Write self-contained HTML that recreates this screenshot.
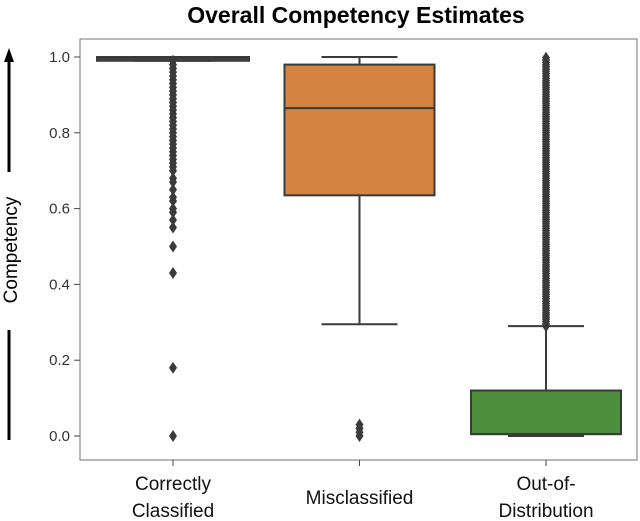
<!DOCTYPE html>
<html><head><meta charset="utf-8"><style>
body{margin:0;background:#fff;}
svg{display:block;font-family:"Liberation Sans",sans-serif;}
</style></head><body>
<svg id="c" width="640" height="521">
<text x="356" y="23" text-anchor="middle" font-size="23" font-weight="bold">Overall Competency Estimates</text>
<g>
<line x1="9" y1="440" x2="9" y2="330" stroke="#000" stroke-width="3"/>
<line x1="9" y1="172" x2="9" y2="60" stroke="#000" stroke-width="3"/>
<polygon points="9,48 4,62 14,62" fill="#000"/>
<text transform="translate(17,250) rotate(-90)" text-anchor="middle" font-size="19">Competency</text>
</g>
<rect x="80" y="39" width="557" height="421" fill="none" stroke="#888" stroke-width="1.2"/>
<g id="yt"></g><g id="bx"></g>
</svg>
<script>
const categories=["Correctly Classified","Misclassified","Out-of-Distribution"];
const q1=[0.99,0.635,0.005];
const medians=[0.997,0.865,0.005];
const q3=[1.0,0.98,0.12];
const whiskLow=[0.99,0.295,0.0];
const whiskHigh=[1.0,1.0,0.29];
const outliers0=[0.0,0.18,0.43,0.5,0.55,0.57,0.59,0.6,0.62,0.63,0.65,0.67,0.68,0.7,0.71,0.72,0.73,0.74,0.75,0.76,0.77,0.78,0.79,0.8,0.81,0.82,0.83,0.84,0.85,0.86,0.87,0.88,0.89,0.9,0.91,0.92,0.93,0.94,0.95,0.96,0.97,0.98,0.99];
const outliers1=[0.0,0.01,0.02,0.03];
const yTicks=[0.0,0.2,0.4,0.6,0.8,1.0];
const tickLabels=["0.0","0.2","0.4","0.6","0.8","1.0"];
const colors=["#4a4a4a","#d48440","#4e8f3f"];
const NS="http://www.w3.org/2000/svg";
const y=v=>436-v*379;
const xc=i=>173+i*186.5;
function mk(t,a,p){const e=document.createElementNS(NS,t);for(const k in a)e.setAttribute(k,a[k]);p.appendChild(e);return e;}
const yt=document.getElementById('yt');
yTicks.forEach((v,i)=>{
 const l=mk('line',{x1:74,x2:80,y1:y(v),y2:y(v),stroke:'#444'},yt);
 
 
 const t=mk('text',{x:70,y:y(v)+5,'text-anchor':'end','font-size':15,fill:'#333'},yt);
 t.textContent=tickLabels[i];
 
 
});
const bx=document.getElementById('bx');
const outs=[outliers0,outliers1,[]];
for(let v=0.29;v<=1.0;v+=0.006)outs[2].push(+v.toFixed(3));
categories.forEach((c,i)=>{
 const g=mk('g',{},bx);
 
 
 const cx=xc(i),hw=75,cw=38,s='#3a3a3a';
 mk('line',{x1:cx,x2:cx,y1:y(whiskHigh[i]),y2:y(q3[i]),stroke:s,'stroke-width':2},g);
 mk('line',{x1:cx,x2:cx,y1:y(q1[i]),y2:y(whiskLow[i]),stroke:s,'stroke-width':2},g);
 mk('line',{x1:cx-cw,x2:cx+cw,y1:y(whiskHigh[i]),y2:y(whiskHigh[i]),stroke:s,'stroke-width':2},g);
 mk('line',{x1:cx-cw,x2:cx+cw,y1:y(whiskLow[i]),y2:y(whiskLow[i]),stroke:s,'stroke-width':2},g);
 const w=i==0?152:hw*2;
 mk('rect',{x:cx-w/2,y:y(q3[i]),width:w,height:Math.max(3,y(q1[i])-y(q3[i])),fill:colors[i],stroke:s,'stroke-width':2},g);
 mk('line',{x1:cx-w/2,x2:cx+w/2,y1:y(medians[i]),y2:y(medians[i]),stroke:s,'stroke-width':2},g);
 outs[i].forEach(v=>{
  const d=mk('path',{d:`M${cx} ${y(v)-6}L${cx+4} ${y(v)}L${cx} ${y(v)+6}L${cx-4} ${y(v)}Z`,fill:'#3a3a3a'},g);
  
  
 });
 mk('line',{x1:cx,x2:cx,y1:460,y2:466,stroke:'#444'},g);
 const parts=i==0?["Correctly","Classified"]:i==1?["Misclassified"]:["Out-of-","Distribution"];
 parts.forEach((p,j)=>{
  const t=mk('text',{x:cx,y:(parts.length==1?504:490+j*27),'text-anchor':'middle','font-size':19,fill:'#111'},bx);
  t.textContent=p;
  
  
 });
});
</script>
</body></html>
